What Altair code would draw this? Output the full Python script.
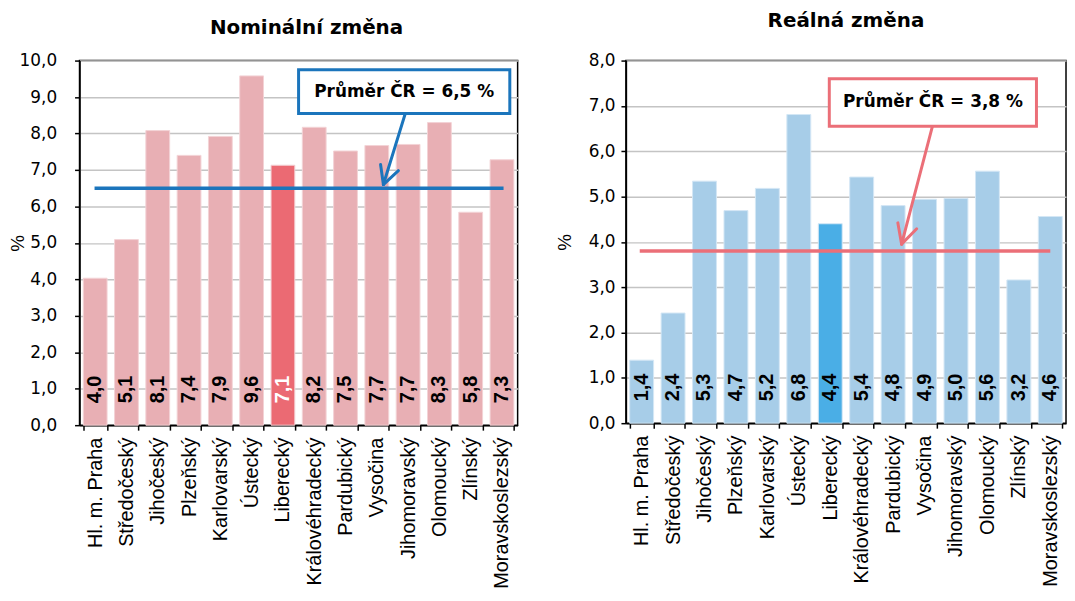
import altair as alt
import pandas as pd

regions = ["Hl. m. Praha", "Středočeský", "Jihočeský", "Plzeňský", "Karlovarský",
           "Ústecký", "Liberecký", "Královéhradecký", "Pardubický", "Vysočina",
           "Jihomoravský", "Olomoucký", "Zlínský", "Moravskoslezský"]
nominal = [4.03, 5.09, 8.08, 7.40, 7.92, 9.58, 7.13, 8.17, 7.52, 7.67, 7.70, 8.30, 5.84, 7.28]
real = [1.39, 2.43, 5.34, 4.69, 5.18, 6.81, 4.40, 5.43, 4.80, 4.94, 4.96, 5.56, 3.16, 4.56]
highlight = "Liberecký"

nom_avg = 6.5
real_avg = 3.8
nom_note = "Průměr ČR = 6,5 %"
real_note = "Průměr ČR = 3,8 %"

# annotation geometry: x in band units (0..14), y in data units
nom_box = [7.0, 13.75, 8.55, 9.75]
nom_arrow = [[10.41, 8.55, 9.71, 6.6], [9.71, 6.6, 9.62, 7.15], [9.71, 6.6, 10.19, 6.98]]
nom_rule = [0.48, 13.55]
real_box = [6.47, 13.06, 6.55, 7.6]
real_arrow = [[9.75, 6.55, 8.77, 3.95], [8.77, 3.95, 8.65, 4.42], [8.77, 3.95, 9.25, 4.29]]
real_rule = [0.44, 13.5]

LAB = "Liberation Sans"
DJ = "DejaVu Sans"


def panel(values, ymax, h, w, base, hi, bstroke, line_col, avg, box, arrow, rule, note,
          title, label_pad, title_x, hi_text, tparams):
    df = pd.DataFrame({"region": regions, "value": values})
    yscale = alt.Scale(domain=[0, ymax], nice=False, zero=True)
    xaxis = alt.Axis(labelAngle=270, labelAlign="right", labelBaseline="middle",
                     labelFont=LAB, labelFontSize=20, labelColor="black", labelPadding=7,
                     tickBand="extent", tickSize=5, tickColor="black", tickWidth=1.5,
                     domainColor="black", domainWidth=1.5, labelLimit=400)
    x = alt.X("region:N", sort=regions, title=None,
              scale=alt.Scale(paddingInner=0.24, paddingOuter=0.12), axis=xaxis)
    yaxis = alt.Axis(values=list(range(0, ymax + 1)), tickCount=ymax + 5,
                     labelExpr="replace(format(datum.value, '.1f'), '.', ',')",
                     labelFont=DJ, labelFontSize=17, labelColor="black", labelPadding=label_pad,
                     labelOverlap=False,
                     tickSize=5, tickColor="black", tickWidth=1.5,
                     domainColor="black", domainWidth=1.5,
                     grid=True, gridColor="#c4c4c4", gridWidth=1.5,
                     title="%", titleFont=LAB, titleFontSize=19, titleFontWeight="normal",
                     titleColor="black", titleX=title_x, titleY=h / 2, titleAngle=270,
                     titleBaseline="middle")
    y = alt.Y("value:Q", scale=yscale, axis=yaxis)

    bars = alt.Chart(df).mark_bar(stroke=bstroke, strokeWidth=1).encode(
        x=x, y=y,
        color=alt.condition(alt.datum.region == highlight, alt.value(hi), alt.value(base)))
    labels = alt.Chart(df).transform_calculate(
        lab="replace(format(datum.value, '.1f'), '.', ',')",
        zero="0"
    ).mark_text(angle=270, align="left", baseline="middle", dx=22, font=LAB,
                fontSize=20, fontWeight="bold").encode(
        x=alt.X("region:N", sort=regions),
        y=alt.Y("zero:Q", scale=yscale, axis=yaxis),
        text="lab:N",
        color=alt.condition(alt.datum.region == highlight, alt.value(hi_text), alt.value("black")))
    base_layer = alt.layer(bars, labels)

    qx = alt.Scale(domain=[0, 14], nice=False, zero=False)
    rule_df = pd.DataFrame({"x0": [rule[0]], "x1": [rule[1]], "value": [avg]})
    rule_mark = alt.Chart(rule_df).mark_rule(color=line_col, strokeWidth=3.5).encode(
        x=alt.X("x0:Q", scale=qx, axis=None), x2="x1",
        y=alt.Y("value:Q", scale=yscale, axis=yaxis))
    arr_df = pd.DataFrame(arrow, columns=["x0", "value", "x1", "v1"])
    arrow_mark = alt.Chart(arr_df).mark_rule(color=line_col, strokeWidth=3, strokeCap="round").encode(
        x=alt.X("x0:Q", scale=qx, axis=None), x2="x1",
        y=alt.Y("value:Q", scale=yscale, axis=yaxis), y2="v1")
    box_df = pd.DataFrame({"x0": [box[0]], "x1": [box[1]], "value": [box[2]], "v1": [box[3]],
                           "xc": [(box[0] + box[1]) / 2], "yc": [(box[2] + box[3]) / 2],
                           "note": [note]})
    box_mark = alt.Chart(box_df).mark_rect(fill="white", stroke=line_col, strokeWidth=3).encode(
        x=alt.X("x0:Q", scale=qx, axis=None), x2="x1",
        y=alt.Y("value:Q", scale=yscale, axis=yaxis), y2="v1")
    note_mark = alt.Chart(box_df).mark_text(font=DJ, fontSize=17, fontWeight="bold",
                                            color="black", baseline="middle").encode(
        x=alt.X("xc:Q", scale=qx, axis=None),
        y=alt.Y("yc:Q", scale=yscale, axis=yaxis),
        text="note:N")
    ann_layer = alt.layer(rule_mark, arrow_mark, box_mark, note_mark)

    return alt.layer(base_layer, ann_layer).resolve_scale(x="independent").properties(
        width=w, height=h, title=alt.TitleParams(text=title, **tparams))


left = panel(nominal, 10, 367, 441, "#E8AFB4", "#EB6A73", "#F3D3D6", "#1B75BC", nom_avg,
             nom_box, nom_arrow, nom_rule, nom_note, "Nominální změna", 18, -62, "white",
             dict(font=DJ, fontSize=20, fontWeight="bold", color="black",
                  offset=21, anchor="middle", frame="group", dx=8, dy=7))
right = panel(real, 8, 365, 443, "#A7CDE8", "#4AAEE6", "#D4E7F5", "#EB6F78", real_avg,
              real_box, real_arrow, real_rule, real_note, "Reálná změna", 6, -62, "black",
              dict(font=DJ, fontSize=20, fontWeight="bold", color="black",
                   offset=21, anchor="middle", frame="group"))

chart = alt.hconcat(left, right, spacing=36).properties(
    padding={"left": 0, "top": 0, "right": 0, "bottom": 0}
).configure_view(stroke="black", strokeWidth=1.5)

chart.save("out.html", embed_options={"renderer": "svg", "actions": False})
